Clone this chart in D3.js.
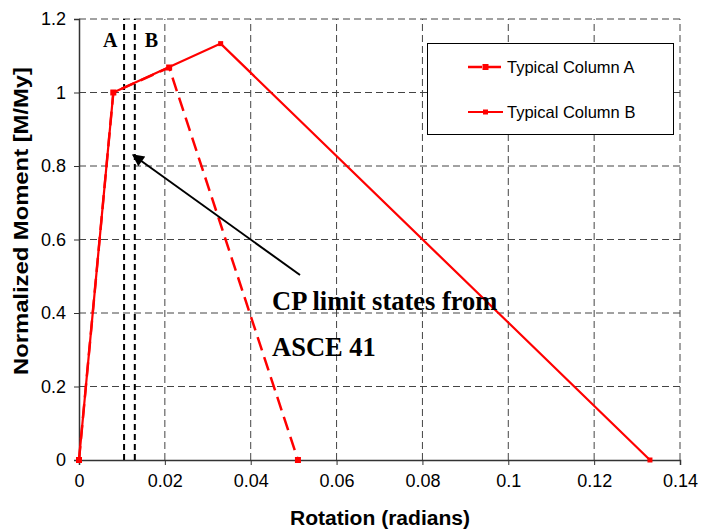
<!DOCTYPE html>
<html><head><meta charset="utf-8">
<script src="https://cdn.jsdelivr.net/npm/d3@7"></script>
<style>body{margin:0;background:#fff}svg{display:block}</style>
</head><body>
<svg id="c" width="701" height="529"></svg>
<script>
const xTicks = [0, 0.02, 0.04, 0.06, 0.08, 0.1, 0.12, 0.14];
const yTicks = [0, 0.2, 0.4, 0.6, 0.8, 1, 1.2];
const columnA = [[0, 0], [0.008, 1.0], [0.021, 1.068], [0.051, 0]];
const columnB = [[0, 0], [0.008, 1.0], [0.033, 1.133], [0.133, 0]];
const limitStates = [{label: "A", x: 0.0105}, {label: "B", x: 0.013}];
const seriesNames = ["Typical Column A", "Typical Column B"];

const svg = d3.select("#c");
const x = d3.scaleLinear().domain([0, 0.14]).range([79, 680]);
const y = d3.scaleLinear().domain([0, 1.2]).range([460, 19]);
const sans = "Liberation Sans, Arial, sans-serif";
const serif = "Liberation Serif, Times New Roman, serif";

// gridlines
svg.append("g").selectAll("line").data(yTicks.filter(d => d > 0)).join("line")
  .attr("x1", x(0)).attr("x2", x(0.14)).attr("y1", d => y(d)).attr("y2", d => y(d))
  .attr("stroke", "#444").attr("stroke-width", 1).attr("stroke-dasharray", "7,4");
svg.append("g").selectAll("line").data(xTicks.filter(d => d > 0)).join("line")
  .attr("x1", d => x(d)).attr("x2", d => x(d)).attr("y1", y(0)).attr("y2", y(1.2))
  .attr("stroke", "#444").attr("stroke-width", 1).attr("stroke-dasharray", "7,4");

// axes
const xAxis = d3.axisBottom(x).tickValues(xTicks).tickSize(5).tickPadding(9).tickFormat(d => String(+d.toFixed(2)));
const yAxis = d3.axisLeft(y).tickValues(yTicks).tickSize(5).tickPadding(8).tickFormat(d => String(+d.toFixed(1)));
const gx = svg.append("g").attr("transform", `translate(0,${y(0)})`).call(xAxis);
const gy = svg.append("g").attr("transform", `translate(${x(0)},0)`).call(yAxis);
[gx, gy].forEach(g => {
  g.attr("font-size", 18).attr("font-family", sans);
  g.select(".domain").attr("stroke", "#333").attr("stroke-width", 1.5);
  g.selectAll(".tick line").attr("stroke", "#333");
  g.selectAll("text").attr("fill", "#000");
});

// limit state lines
svg.append("g").selectAll("line").data(limitStates).join("line")
  .attr("x1", d => x(d.x)).attr("x2", d => x(d.x)).attr("y1", y(0)).attr("y2", y(1.2))
  .attr("stroke", "#000").attr("stroke-width", 2).attr("stroke-dasharray", "6,4");
svg.append("g").selectAll("text").data(limitStates).join("text")
  .attr("x", (d, i) => i === 0 ? x(d.x) - 21 : x(d.x) + 10)
  .attr("y", 47).text(d => d.label)
  .attr("font-family", serif).attr("font-weight", "bold").attr("font-size", 20);

// series
const line = d3.line().x(d => x(d[0])).y(d => y(d[1]));
svg.append("path").datum(columnB).attr("d", line).attr("fill", "none")
  .attr("stroke", "#ff0000").attr("stroke-width", 2.2);
svg.append("path").datum(columnA).attr("d", line).attr("fill", "none")
  .attr("stroke", "#ff0000").attr("stroke-width", 2.5).attr("stroke-dasharray", "14,7");
svg.append("g").selectAll("rect").data(columnB).join("rect")
  .attr("x", d => x(d[0]) - 2.5).attr("y", d => y(d[1]) - 2.5).attr("width", 5).attr("height", 5).attr("fill", "#ff0000");
svg.append("g").selectAll("rect").data(columnA).join("rect")
  .attr("x", d => x(d[0]) - 3).attr("y", d => y(d[1]) - 3).attr("width", 6).attr("height", 6).attr("fill", "#ff0000");

// arrow
svg.append("defs").append("marker").attr("id", "ah").attr("viewBox", "0 0 10 10")
  .attr("refX", 9).attr("refY", 5).attr("markerWidth", 16).attr("markerHeight", 12)
  .attr("markerUnits", "userSpaceOnUse").attr("orient", "auto")
  .append("path").attr("d", "M0,0L10,5L0,10z").attr("fill", "#000");
svg.append("line").attr("x1", 300).attr("y1", 275).attr("x2", 133).attr("y2", 155)
  .attr("stroke", "#000").attr("stroke-width", 2).attr("marker-end", "url(#ah)");
svg.append("text").attr("x", 272).attr("y", 310).text("CP limit states from")
  .attr("font-family", serif).attr("font-weight", "bold").attr("font-size", 26.5);
svg.append("text").attr("x", 272).attr("y", 356).text("ASCE 41")
  .attr("font-family", serif).attr("font-weight", "bold").attr("font-size", 26.5);

// legend
const lg = svg.append("g");
lg.append("rect").attr("x", 427.5).attr("y", 43.5).attr("width", 246).attr("height", 91)
  .attr("fill", "#fff").attr("stroke", "#000").attr("stroke-width", 1);
seriesNames.forEach((name, i) => {
  const cy = i === 0 ? 67 : 112;
  lg.append("line").attr("x1", 468).attr("x2", 503).attr("y1", cy).attr("y2", cy)
    .attr("stroke", "#ff0000").attr("stroke-width", i === 0 ? 2.5 : 2)
    .attr("stroke-dasharray", i === 0 ? "14,5" : null);
  const s = i === 0 ? 6 : 5;
  lg.append("rect").attr("x", 485.5 - s / 2).attr("y", cy - s / 2).attr("width", s).attr("height", s).attr("fill", "#ff0000");
  lg.append("text").attr("x", 507).attr("y", cy + 6).text(name)
    .attr("font-family", sans).attr("font-size", 16.5);
});

// axis titles
svg.append("text").attr("x", 290).attr("y", 525).text("Rotation (radians)")
  .attr("textLength", 180).attr("lengthAdjust", "spacingAndGlyphs")
  .attr("font-family", sans).attr("font-weight", "bold").attr("font-size", 20);
svg.append("text").attr("transform", "translate(28,375) rotate(-90)")
  .text("Normalized Moment [M/My]")
  .attr("textLength", 308).attr("lengthAdjust", "spacingAndGlyphs")
  .attr("font-family", sans).attr("font-weight", "bold").attr("font-size", 20);
</script>
</body></html>
